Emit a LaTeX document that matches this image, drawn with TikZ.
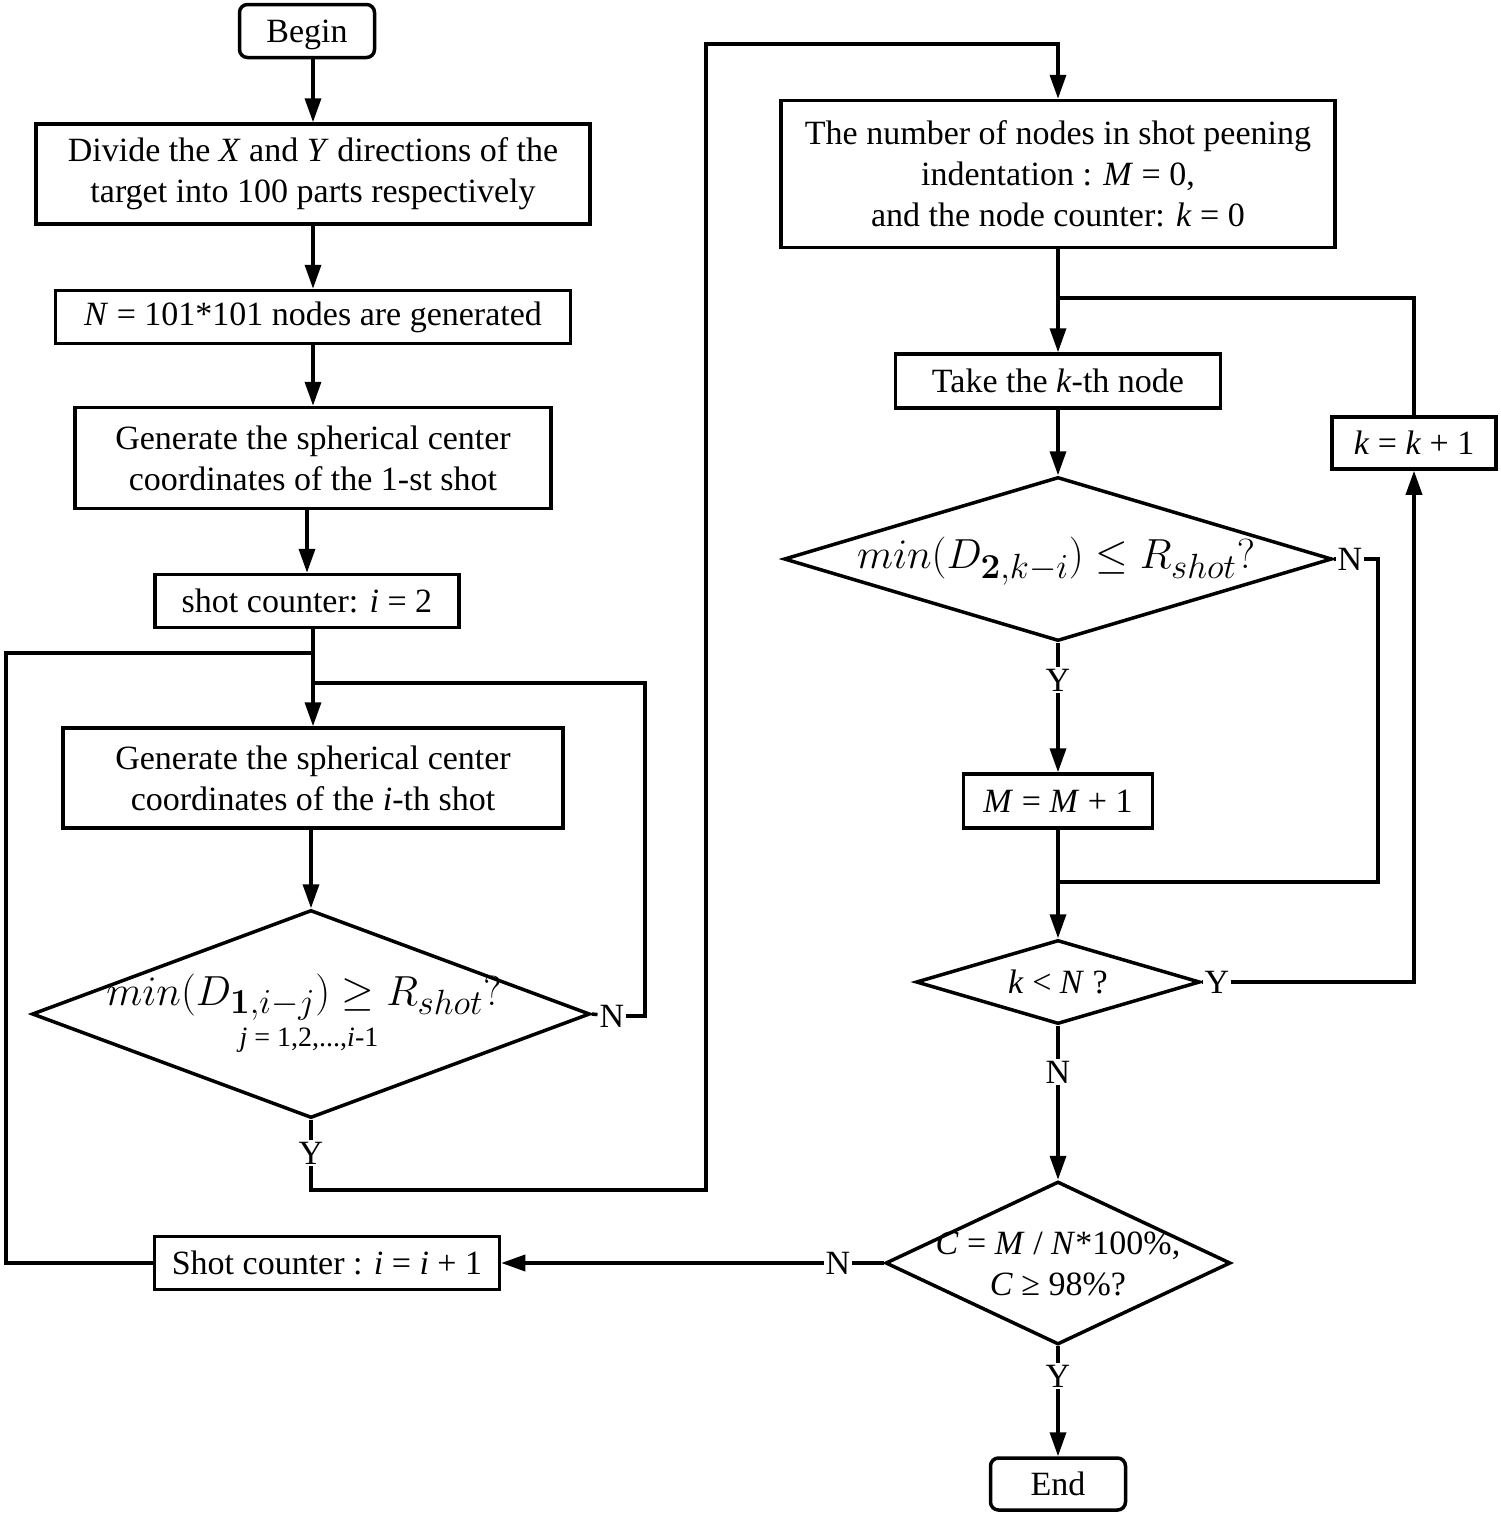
\documentclass[tikz,border=0pt]{standalone}
\usepackage[no-math]{fontspec}
\setmainfont{Liberation Serif}
\usetikzlibrary{arrows.meta,shapes.geometric}
\begin{document}
\begin{tikzpicture}[x=1pt,y=-1pt,
  every node/.style={font=\fontsize{34}{41}\selectfont},
  box/.style={draw, line width=3.5pt, inner sep=0pt, align=center},
  term/.style={box, rounded corners=8pt},
  dia/.style={draw, diamond, line width=3.5pt, inner sep=0pt},
  lab/.style={fill=white, inner sep=2pt},
  bigmath/.style={font=\Huge, scale=1.69},
  conn/.style={line width=3.5pt},
  arr/.style={conn, -{Triangle[length=24pt,width=16pt]}}]
\useasboundingbox (0,0) rectangle (1501,1516);

% left column
\node[term, minimum width=135, minimum height=53] (begin) at (307,31) {\raisebox{-4pt}[\height][\depth]{Begin}};
\node[box, minimum width=554, minimum height=100] (div) at (313,174)
  {Divide the \textit{X} and \textit{Y} directions of the\\target into 100 parts respectively};
\node[box, minimum width=515, minimum height=53] (gen) at (313,317)
  {\textit{N} = 101*101 nodes are generated};
\node[box, minimum width=476, minimum height=101] (gen1) at (313,458)
  {Generate the spherical center\\coordinates of the 1-st shot};
\node[box, minimum width=304, minimum height=53] (sc) at (307,601)
  {shot counter: \textit{i} = 2};
\node[box, minimum width=500, minimum height=100] (geni) at (313,778)
  {Generate the spherical center\\coordinates of the \textit{i}-th shot};
\node[dia, minimum width=558, minimum height=208] (d1) at (311,1014) {};
\node[bigmath] (t1a) at (304,997) {$min(D_{\mathbf{1},i-j}) \geq R_{shot}\mathbf{?}$};
\node (t1b) at (309,1040) {\fontsize{28}{30}\selectfont \textit{j} = 1,2,...,\textit{i}-1};
\node[box, minimum width=345, minimum height=53] (sci) at (327,1263)
  {Shot counter : \textit{i} = \textit{i} + 1};

% right column
\node[box, minimum width=554, minimum height=147] (num) at (1058,174)
  {The number of nodes in shot peening\\indentation : \textit{M} = 0,\\and the node counter: \textit{k} = 0};
\node[box, minimum width=325, minimum height=54] (take) at (1058,381)
  {Take the \textit{k}-th node};
\node[dia, minimum width=548, minimum height=164] (d2) at (1058,559) {};
\node[bigmath] (t2) at (1056,561) {$min(D_{\mathbf{2},k-i}) \leq R_{shot}\mathbf{?}$};
\node[box, minimum width=189, minimum height=54] (M) at (1058,801)
  {\textit{M} = \textit{M} + 1};
\node[dia, minimum width=284, minimum height=84] (d3) at (1058,982) {};
\node (t3) at (1058,982) {\textit{k} < \textit{N} ?};
\node[box, minimum width=164, minimum height=52] (kk) at (1414,443)
  {\textit{k} = \textit{k} + 1};
\node[dia, minimum width=345, minimum height=163] (d4) at (1058,1263) {};
\node[align=center] (t4) at (1058,1264) {\textit{C} = \textit{M} / \textit{N}*100\%,\\\textit{C} ≥ 98\%?};
\node[term, minimum width=135, minimum height=52] (end) at (1058,1484) {End};

% labels
\node[lab] (n1) at (612,1016) {N};
\node[lab] (y1) at (311,1153) {Y};
\node[lab] (n2) at (1350,559) {N};
\node[lab] (y2) at (1058,680) {Y};
\node[lab] (y3) at (1217,982) {Y};
\node[lab] (n3) at (1058,1072) {N};
\node[lab] (n4) at (838,1263) {N};
\node[lab] (y4) at (1058,1376) {Y};

\coordinate (j1) at (313,653);
\coordinate (j2) at (313,683);
\coordinate (j3) at (1058,298);
\coordinate (j4) at (1058,882);

% connectors left
\draw[arr] (div.north |- begin.south) -- (div.north);
\draw[arr] (div.south) -- (gen.north);
\draw[arr] (gen.south) -- (gen1.north);
\draw[arr] (gen1.south -| sc.north) -- (sc.north);
\draw[arr] (geni.north |- sc.south) -- (geni.north);
\draw[arr] (geni.south -| d1.north) -- (d1.north);
\draw[conn] (sci.west) -| (6,653) -- (j1);
\draw[conn] (d1.east) -- (n1);
\draw[conn] (n1) -| (645,683) -- (j2);
\draw[conn] (d1.south) -- (y1);
\draw[arr] (y1) -- (311,1190) -- (706,1190) -- (706,44) -| (num.north);

% connectors right
\draw[arr] (num.south) -- (take.north);
\draw[conn] (kk.north) |- (j3);
\draw[arr] (take.south) -- (d2.north);
\draw[conn] (d2.east) -- (n2);
\draw[conn] (n2) -| (1378,882) -- (j4);
\draw[conn] (d2.south) -- (y2);
\draw[arr] (y2) -- (M.north);
\draw[arr] (M.south) -- (d3.north);
\draw[conn] (d3.east) -- (y3);
\draw[arr] (y3) -| (kk.south);
\draw[conn] (d3.south) -- (n3);
\draw[arr] (n3) -- (d4.north);
\draw[conn] (d4.west) -- (n4);
\draw[arr] (n4) -- (sci.east);
\draw[conn] (d4.south) -- (y4);
\draw[arr] (y4) -- (end.north);
\end{tikzpicture}
\end{document}
